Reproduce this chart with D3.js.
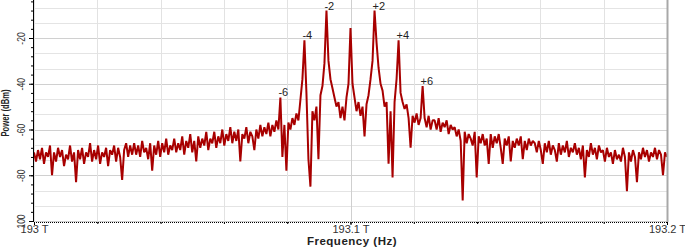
<!DOCTYPE html>
<html>
<head>
<meta charset="utf-8">
<script src="https://cdn.jsdelivr.net/npm/d3@7"></script>
<style>
    body { margin: 0; background: #fff; }
    svg { display: block; }
    text { font-family: "Liberation Sans", Arial, sans-serif; }
</style>
</head>
<body>
<div id="spectrum"></div>
<script>
// Spectrum trace (dBm), one sample every ~2 px
var powerLeft = [
    -70, -74, -69, -73, -68, -75, -70, -72, -67, -80,
    -70, -74, -68, -72, -69, -76, -71, -73, -67, -74,
    -70, -83, -69, -73, -68, -75, -70, -72, -66, -74,
    -69, -73, -67, -75, -70, -72, -68, -76, -69, -71,
    -67, -74, -68, -72, -82, -69, -66, -72, -67, -71
];
var powerRise = [
    -66, -71, -67, -72, -65, -70, -68, -73, -66, -78,
    -67, -71, -65, -72, -66, -70, -64, -71, -67, -69,
    -64, -70, -66, -69, -63, -71, -65, -68, -62, -70,
    -65, -74, -63, -68, -64, -67, -61, -69, -64, -66,
    -61, -68, -63, -66, -60, -67, -62, -65, -59, -66
];
var powerSkirtLeft = [
    -61, -65, -60, -74, -62, -64, -59, -66, -61, -63,
    -69, -60, -64, -58, -63, -59, -62, -57, -63, -58,
    -61, -56, -60
];
var powerPeaks = [
    -46, -72, -58, -78, -57, -60, -55, -58, -53, -56,
    -47, -38, -21, -44, -73, -85, -52, -56, -50, -73,
    -45, -41, -31, -8, -30, -38, -42, -46, -50, -48,
    -55, -50, -56, -46, -40, -15.6, -40, -46, -52, -48,
    -54, -50, -63, -49, -45, -38, -30, -8, -22, -33,
    -40, -43, -50, -48, -75, -52, -81, -48, -38, -21,
    -44, -48, -51, -49, -55, -68, -54, -57, -53, -58,
    -55, -41, -55, -59, -54, -60, -56
];
var powerFall = [
    -56, -60, -55, -61, -57, -59, -56, -62, -58, -60,
    -59, -63, -60, -65, -91, -61, -66, -62, -64, -67,
    -61, -81, -63, -66, -62, -67, -64, -75, -62, -68,
    -63, -66, -62, -68, -75, -64, -67, -63, -74, -65,
    -68, -64, -67, -63, -73, -65, -69, -64, -67, -65
];
var powerRight = [
    -66, -70, -65, -69, -75, -66, -70, -65, -71, -67,
    -69, -74, -66, -71, -67, -70, -65, -72, -68, -70,
    -66, -71, -68, -73, -67, -81, -69, -72, -66, -71,
    -68, -73, -67, -70, -69, -74, -68, -72, -70, -75,
    -69, -73, -71, -74, -68, -72, -87, -70, -74, -69,
    -72, -83, -70, -73, -68, -72, -69, -74, -70, -72,
    -68, -73, -69, -71, -80, -70, -72
];
var power = [].concat(powerLeft, powerRise, powerSkirtLeft, powerPeaks, powerFall, powerRight);

var freqStart = 193, freqEnd = 193.2; // THz
var freq = d3.range(power.length).map(function (i) {
    return freqStart + i * (freqEnd - freqStart) / (power.length - 1);
});

var xTicks = [193, 193.1, 193.2];
var xTickLabels = ["193 T", "193.1 T", "193.2 T"];
var yTicks = [-100, -80, -60, -40, -20];
var yTickLabels = ["100", "-80", "-60", "-40", "-20"];

// sideband peaks and their labels
var peakIndex = [123, 135, 146, 170, 182, 194];
var peakLabels = ["-6", "-4", "-2", "+2", "+4", "+6"];

function drawSpectrum() {
    var width = 685, height = 247;
    var left = 34, right = 667, bottom = 222;

    var svg = d3.select("#spectrum").append("svg")
        .attr("width", width)
        .attr("height", height);

    var x = d3.scaleLinear().domain([freqStart, freqEnd]).range([left, right]);
    var y = d3.scaleLinear().domain([-100, -20]).range([221, 38]);

    var minorY = d3.range(-100, 0, 4);
    var gridY = d3.range(0, 15).map(function (i) { return -100 + i * 20 / 3; });
    var minorX = d3.range(0, 11).map(function (i) { return freqStart + i * 0.02; });

    // grid
    svg.append("g").selectAll("line")
        .data(gridY).enter().append("line")
        .attr("x1", left).attr("x2", right)
        .attr("y1", function (d) { return Math.round(y(d)) + 0.5; })
        .attr("y2", function (d) { return Math.round(y(d)) + 0.5; })
        .attr("stroke", function (d, i) { return i % 3 === 0 ? "#d0d0d0" : "#e4e4e4"; })
        .attr("stroke-width", 1);

    svg.append("g").selectAll("line")
        .data(minorX).enter().append("line")
        .attr("x1", function (d) { return Math.round(x(d)) + 0.5; })
        .attr("x2", function (d) { return Math.round(x(d)) + 0.5; })
        .attr("y1", 0).attr("y2", bottom)
        .attr("stroke", function (d, i) { return i === 5 ? "#cfcfcf" : "#e2e2e2"; });

    // trace
    var line = d3.line()
        .x(function (d, i) { return x(freq[i]); })
        .y(function (d) { return y(d); });

    svg.append("path")
        .datum(power)
        .attr("d", line)
        .attr("fill", "none")
        .attr("stroke", "#a80000")
        .attr("stroke-width", 2)
        .attr("stroke-linejoin", "bevel");

    // peak labels
    svg.append("g").selectAll("text")
        .data(peakIndex).enter().append("text")
        .attr("x", function (d) { return x(freq[d]) - 2; })
        .attr("y", function (d) { return y(power[d]) - 1; })
        .attr("font-size", 11)
        .attr("fill", "#222")
        .text(function (d, i) { return peakLabels[i]; });

    // right frame
    svg.append("line")
        .attr("x1", right + 0.5).attr("x2", right + 0.5)
        .attr("y1", 0).attr("y2", bottom)
        .attr("stroke", "#a8a8a8").attr("stroke-width", 2);

    // x axis
    var xAxis = svg.append("g")
        .attr("transform", "translate(0," + bottom + ")")
        .call(d3.axisBottom(x).tickValues(xTicks)
            .tickFormat(function (d, i) { return xTickLabels[i]; })
            .tickSize(3).tickSizeOuter(0));
    xAxis.select(".domain").remove();
    xAxis.selectAll("text")
        .attr("font-size", 11)
        .attr("fill", "#333")
        .attr("y", 3)
        .attr("dy", "0.72em");

    svg.append("g")
        .attr("transform", "translate(0," + bottom + ")")
        .call(d3.axisBottom(x).tickValues(minorX).tickFormat("").tickSize(2).tickSizeOuter(0))
        .select(".domain").remove();

    svg.append("line")
        .attr("x1", left).attr("x2", right)
        .attr("y1", bottom + 0.5).attr("y2", bottom + 0.5)
        .attr("stroke", "#000").attr("stroke-dasharray", "1,1");

    // y axis
    var yAxis = svg.append("g")
        .attr("transform", "translate(" + (left - 1) + ",0)")
        .call(d3.axisLeft(y).tickValues(yTicks)
            .tickFormat(function (d, i) { return yTickLabels[i]; })
            .tickSize(4).tickSizeOuter(0));
    yAxis.select(".domain").remove();
    yAxis.selectAll("text")
        .attr("font-size", 10)
        .attr("fill", "#333")
        .attr("text-anchor", "middle")
        .attr("x", 0).attr("y", -8).attr("dy", 0)
        .attr("transform", "rotate(-90) scale(0.85,1)");

    svg.append("g")
        .attr("transform", "translate(" + (left - 1) + ",0)")
        .call(d3.axisLeft(y).tickValues(minorY).tickFormat("").tickSize(2).tickSizeOuter(0))
        .select(".domain").remove();

    svg.append("line")
        .attr("x1", left - 0.5).attr("x2", left - 0.5)
        .attr("y1", 0).attr("y2", bottom)
        .attr("stroke", "#000");

    // axis titles
    svg.append("text")
        .attr("x", 352).attr("y", 245)
        .attr("text-anchor", "middle")
        .attr("font-size", 11.5)
        .attr("font-weight", "bold")
        .attr("letter-spacing", 0.5)
        .attr("fill", "#222")
        .text("Frequency (Hz)");

    svg.append("text")
        .attr("transform", "translate(9,113) rotate(-90)")
        .attr("text-anchor", "middle")
        .attr("font-size", 10)
        .attr("font-weight", "bold")
        .attr("textLength", 47)
        .attr("lengthAdjust", "spacingAndGlyphs")
        .attr("fill", "#222")
        .text("Power (dBm)");
}

drawSpectrum();
</script>
</body>
</html>
